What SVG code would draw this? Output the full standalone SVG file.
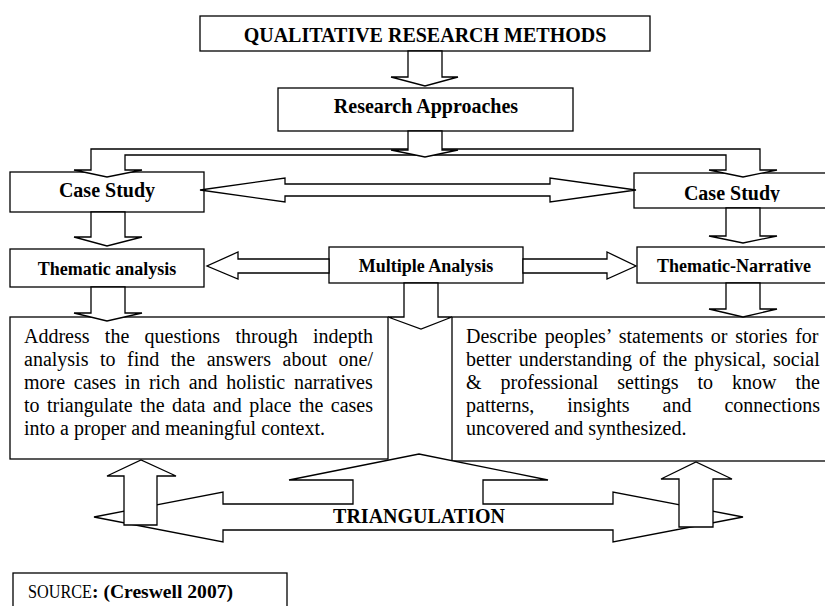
<svg xmlns="http://www.w3.org/2000/svg" width="825" height="606" viewBox="0 0 825 606">
  <defs>
    <style>
      .box { fill:#fff; stroke:#000; stroke-width:1.3; }
      .arr { fill:#fff; stroke:#000; stroke-width:1.3; stroke-linejoin:miter; }
      .t { font-family:"Liberation Serif","Times New Roman",serif; fill:#000; }
      .h { font-weight:bold; text-anchor:middle; font-size:20px; }
      .h18 { font-weight:bold; text-anchor:middle; font-size:18px; }
      .p { font-size:20px; }
    </style>
    <clipPath id="clipCaseR"><rect x="634" y="173" width="196" height="29"/></clipPath>
  </defs>
  <rect x="0" y="0" width="825" height="606" fill="#fff"/>

  <g id="nodes">
    <g id="node-title">
      <rect class="box" x="200" y="16" width="450" height="35"/>
      <text class="t h" x="425" y="42">QUALITATIVE RESEARCH METHODS</text>
    </g>
    <g id="node-approaches">
      <rect class="box" x="278" y="88" width="295" height="43"/>
      <text class="t h" x="426" y="113">Research Approaches</text>
    </g>
    <g id="node-case-left">
      <rect class="box" x="10" y="172" width="194" height="40"/>
      <text class="t h" x="107" y="197">Case Study</text>
    </g>
    <g id="node-case-right">
      <rect class="box" x="634" y="173" width="196" height="35"/>
      <text class="t h" x="732" y="200" clip-path="url(#clipCaseR)">Case Study</text>
    </g>
    <g id="node-thematic">
      <rect class="box" x="10" y="249" width="194" height="38"/>
      <text class="t h18" x="107" y="275">Thematic analysis</text>
    </g>
    <g id="node-multiple">
      <rect class="box" x="329" y="247" width="194" height="36"/>
      <text class="t h18" x="426" y="272">Multiple Analysis</text>
    </g>
    <g id="node-narrative">
      <rect class="box" x="637" y="247" width="193" height="36"/>
      <text class="t h18" x="734" y="272">Thematic-Narrative</text>
    </g>
    <g id="node-desc-left">
      <rect class="box" x="10" y="317" width="378" height="142"/>
      <text class="t p" x="24" y="343" word-spacing="10.3">Address the questions through indepth</text>
      <text class="t p" x="24" y="366" word-spacing="6.5">analysis to find the answers about one/</text>
      <text class="t p" x="24" y="389" word-spacing="3.7">more cases in rich and holistic narratives</text>
      <text class="t p" x="24" y="412" word-spacing="2.5">to triangulate the data and place the cases</text>
      <text class="t p" x="24" y="435">into a proper and meaningful context.</text>
    </g>
    <g id="node-desc-right">
      <rect class="box" x="452" y="317" width="378" height="144"/>
      <text class="t p" x="466" y="343" word-spacing="2.7">Describe peoples’ statements or stories for</text>
      <text class="t p" x="466" y="366" word-spacing="2.1">better understanding of the physical, social</text>
      <text class="t p" x="466" y="389" word-spacing="14">&amp; professional settings to know the</text>
      <text class="t p" x="466" y="412" word-spacing="28">patterns, insights and connections</text>
      <text class="t p" x="466" y="435">uncovered and synthesized.</text>
    </g>
    <g id="node-triangulation">
      <polygon class="arr" points="94,517 223,492 223,504 353,504 353,480 289,480 419,454 548,480 483,480 483,504 613,504 613,492 743,517 613,542 613,530 223,530 223,542"/>
      <text class="t h" x="419" y="523">TRIANGULATION</text>
    </g>
    <g id="node-source">
      <rect class="box" x="13" y="573" width="274" height="45"/>
      <text class="t" x="28" y="598" font-size="18" textLength="64" lengthAdjust="spacingAndGlyphs">SOURCE</text>
      <text class="t" x="92" y="598" font-size="18" font-weight="bold" textLength="141" lengthAdjust="spacingAndGlyphs">: (Creswell 2007)</text>
    </g>
  </g>

  <g id="connectors">
    <polygon class="arr" points="408,51 442,51 442,77 458,77 425,86 391,77 408,77"/>
    <polygon class="arr" points="91,149 760,149 760,170 777,170 743,177 709,170 726,170 726,155 125,155 125,170 142,170 107,177 74,170 91,170"/>
    <polygon class="arr" points="408,131 442,131 442,150 458,150 425,157 391,150 408,150"/>
    <polygon class="arr" points="200,190 285,178 285,184 550,184 550,178 636,190 550,202 550,196 285,196 285,202"/>
    <polygon class="arr" points="91,212 125,212 125,237 142,237 107,246 74,237 91,237"/>
    <polygon class="arr" points="726,208 760,208 760,236 777,236 743,243 709,236 726,236"/>
    <polygon class="arr" points="329,259 238,259 238,252 207,266 238,279 238,273 329,273"/>
    <polygon class="arr" points="523,259 607,259 607,252 636,266 607,279 607,273 523,273"/>
    <polygon class="arr" points="91,287 125,287 125,313 142,313 107,321 74,313 91,313"/>
    <polygon class="arr" points="726,283 760,283 760,309 777,309 743,317 709,309 726,309"/>
    <polygon class="arr" points="404,283 438,283 438,317 452,317 421,329 388,317 404,317"/>
    <polygon class="arr" points="124,525 157,525 157,476 176,476 141,460 107,476 124,476"/>
    <polygon class="arr" points="679,527 713,527 713,479 732,479 696,462 661,479 679,479"/>
  </g>
</svg>
